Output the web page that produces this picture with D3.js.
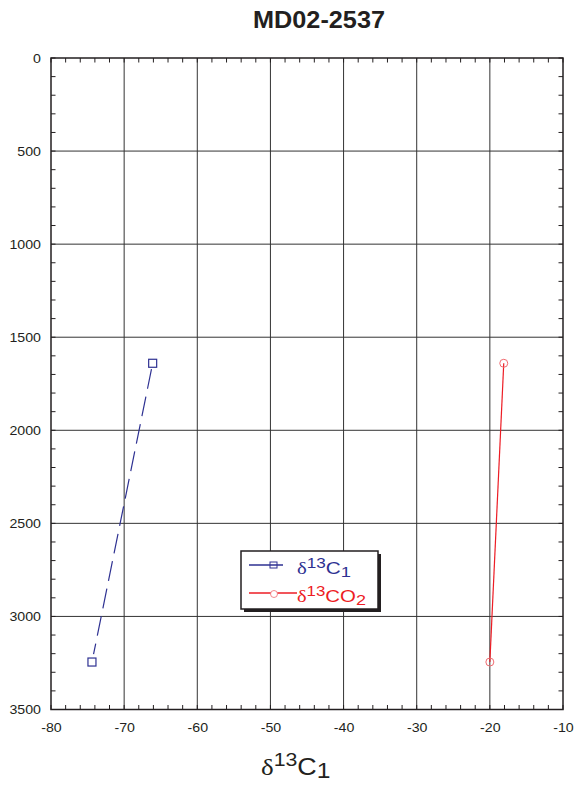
<!DOCTYPE html>
<html><head><meta charset="utf-8">
<script src="https://cdn.jsdelivr.net/npm/d3@7"></script>
<style>body{margin:0;background:#fff;font-family:"Liberation Sans",Arial,sans-serif;}</style>
</head><body><svg id="c" width="587" height="785"></svg>
<script>
const title = "MD02-2537";
const xTicks = [-80,-70,-60,-50,-40,-30,-20,-10];
const yTicks = [0,500,1000,1500,2000,2500,3000,3500];
const c1X = [-66.1, -74.4];
const c1Depth = [1640, 3245];
const co2X = [-18.1, -20.0];
const co2Depth = [1640, 3245];

const svg = d3.select("#c");
const L=51,R=563,T=58,B=709.5;
const x = d3.scaleLinear().domain([-80,-10]).range([L,R]);
const y = d3.scaleLinear().domain([0,3500]).range([T,B]);
const ink="#231f20";

svg.append("text").attr("x",319).attr("y",28).attr("text-anchor","middle")
  .attr("font-size",23).attr("font-weight","bold").attr("fill",ink)
  .attr("textLength",132).attr("lengthAdjust","spacingAndGlyphs").text(title);

const g = svg.append("g");
xTicks.slice(1,-1).forEach(v=>g.append("line").attr("x1",x(v)).attr("x2",x(v)).attr("y1",T).attr("y2",B).attr("stroke","#333").attr("stroke-width",1));
yTicks.slice(1,-1).forEach(v=>g.append("line").attr("y1",y(v)).attr("y2",y(v)).attr("x1",L).attr("x2",R).attr("stroke","#333").attr("stroke-width",1));
const tl=4.5;
d3.range(-80,-9,2).forEach(v=>{
  g.append("line").attr("x1",x(v)).attr("x2",x(v)).attr("y1",B).attr("y2",B-tl).attr("stroke",ink).attr("stroke-width",1);
  g.append("line").attr("x1",x(v)).attr("x2",x(v)).attr("y1",T).attr("y2",T+tl).attr("stroke",ink).attr("stroke-width",1);
});
d3.range(0,3501,100).forEach(v=>{
  g.append("line").attr("y1",y(v)).attr("y2",y(v)).attr("x1",L).attr("x2",L+tl).attr("stroke",ink).attr("stroke-width",1);
  g.append("line").attr("y1",y(v)).attr("y2",y(v)).attr("x1",R).attr("x2",R-tl).attr("stroke",ink).attr("stroke-width",1);
});
g.append("rect").attr("x",L).attr("y",T).attr("width",R-L).attr("height",B-T).attr("fill","none").attr("stroke",ink).attr("stroke-width",1.5);

const fmt = d=>String(d);
const xa = svg.append("g").attr("transform",`translate(0,${B})`).call(d3.axisBottom(x).tickValues(xTicks).tickFormat(fmt).tickSize(0).tickPadding(13));
xa.select(".domain").remove();
const ya = svg.append("g").attr("transform",`translate(${L},0)`).call(d3.axisLeft(y).tickValues(yTicks).tickFormat(fmt).tickSize(0).tickPadding(10));
ya.select(".domain").remove();
[xa,ya].forEach(a=>a.selectAll("text").attr("font-size",13.5).attr("font-family","Liberation Sans, Arial").attr("fill",ink)
  .each(function(){const w=this.getComputedTextLength(); d3.select(this).attr("textLength",w*1.05).attr("lengthAdjust","spacingAndGlyphs");}));

const blue="#2e3192", red="#ed1c24";
const c1 = c1X.map((v,i)=>[x(v),y(c1Depth[i])]);
const co2 = co2X.map((v,i)=>[x(v),y(co2Depth[i])]);
const line = d3.line();
function trimmed(p, a, b){const dx=p[1][0]-p[0][0], dy=p[1][1]-p[0][1], len=Math.hypot(dx,dy);
  return [[p[0][0]+dx*a/len,p[0][1]+dy*a/len],[p[1][0]-dx*b/len,p[1][1]-dy*b/len]];}
svg.append("path").attr("d",line(trimmed(c1,6,8))).attr("stroke",blue).attr("stroke-width",1.2).attr("fill","none").attr("stroke-dasharray","20,8");
svg.selectAll(".sq").data(c1).join("rect").attr("x",d=>d[0]-4).attr("y",d=>d[1]-4).attr("width",8).attr("height",8).attr("fill","none").attr("stroke",blue).attr("stroke-width",1.2);
svg.append("path").attr("d",line(co2)).attr("stroke",red).attr("stroke-width",1.2).attr("fill","none");
svg.selectAll(".ci").data(co2).join("circle").attr("cx",d=>d[0]).attr("cy",d=>d[1]).attr("r",4).attr("fill","none").attr("stroke","#f06b70").attr("stroke-width",1);

// legend
svg.append("rect").attr("x",244).attr("y",554).attr("width",137).attr("height",58).attr("fill",ink);
svg.append("rect").attr("x",241).attr("y",551).attr("width",137).attr("height",58).attr("fill","#fff").attr("stroke",ink).attr("stroke-width",1.5);
svg.append("line").attr("x1",249).attr("x2",283).attr("y1",565).attr("y2",565).attr("stroke",blue).attr("stroke-width",1.5);
svg.append("rect").attr("x",270).attr("y",562).attr("width",7).attr("height",6).attr("fill","none").attr("stroke",blue).attr("stroke-width",1);
svg.append("line").attr("x1",249).attr("x2",297).attr("y1",593).attr("y2",593).attr("stroke",red).attr("stroke-width",1.5);
svg.append("circle").attr("cx",274).attr("cy",594).attr("r",3.5).attr("fill","#fff").attr("stroke","#f06b70").attr("stroke-width",0.8);

function label(sel, x0, y0, len, main, sup, subSize, parts, color, subDy){
  const t = sel.append("text").attr("x",x0).attr("y",y0).attr("font-size",main).attr("fill",color)
    .attr("textLength",len).attr("lengthAdjust","spacingAndGlyphs");
  t.append("tspan").attr("font-family","Liberation Serif, serif").text("δ");
  t.append("tspan").attr("dy",-main*0.38).attr("font-size",sup).text("13");
  t.append("tspan").attr("dy",main*0.38).text(parts[0]);
  t.append("tspan").attr("dy",subDy).attr("font-size",subSize).text(parts[1]);
  return t;
}
label(svg,297,574,54,17,14,15,["C","1"],blue,3);
label(svg,297,602,69,17,14,15,["CO","2"],red,3);
label(svg,261,775,69.5,24,19,22,["C","1"],ink,3);
</script></body></html>
